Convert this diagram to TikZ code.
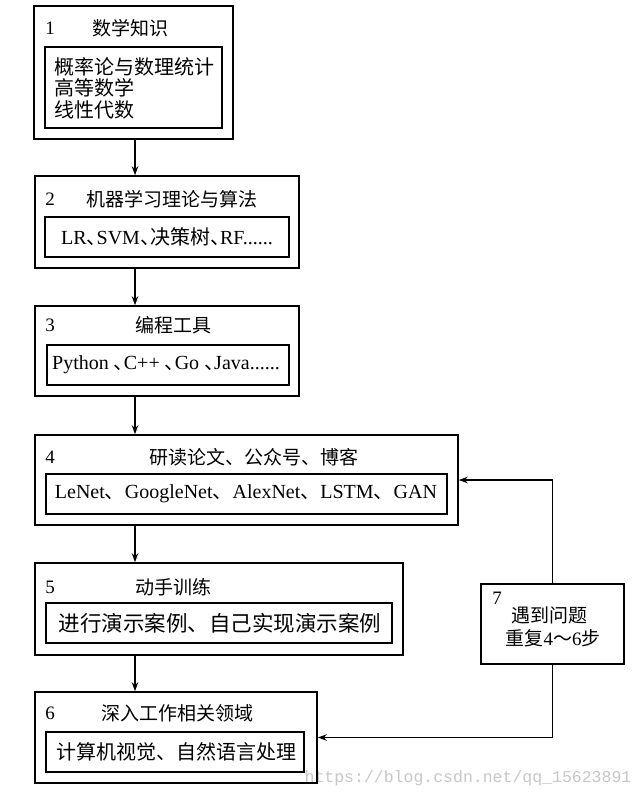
\documentclass[tikz,border=0pt]{standalone}
\usepackage{fontspec}
\setmainfont{Liberation Serif}
\setmonofont{Liberation Mono}
\newfontfamily\cjk{Noto Sans CJK SC}
\usetikzlibrary{arrows.meta}
\newcommand{\nd}{\makebox[0.5em][l]{\cjk 、}}
\tikzset{
  obox/.style={draw, line width=1.6pt, inner sep=0pt},
  ibox/.style={draw, line width=1.5pt, inner sep=0pt},
  txt/.style={inner sep=0pt, font=\fontsize{19pt}{22pt}\selectfont},
  big/.style={inner sep=0pt, font=\fontsize{20pt}{23pt}\selectfont},
  arr/.style={line width=1.2pt, -{Stealth[length=9pt,width=6.5pt]}},
}
\begin{document}
\begin{tikzpicture}[x=1pt,y=-1pt]
\useasboundingbox (0,0) rectangle (642,799);
% watermark
\node[inner sep=0pt, text=black!22, font=\ttfamily\fontsize{16.5pt}{18pt}\selectfont] (wm) at (468,778) {https://blog.csdn.net/qq\_15623891};
% box 1
\node[obox, minimum width=199pt, minimum height=133pt] (b1) at (133.5,72.5) {};
\node[ibox, minimum width=177pt, minimum height=81pt] (i1) at (133.5,87.5) {};
\node[txt] (n1) at (50,28) {1};
\node[txt] (t1) at (130,28) {\cjk 数学知识};
\node[big, anchor=west, align=left, font=\fontsize{20pt}{21.5pt}\selectfont] (c1) at (54,88) {\cjk 概率论与数理统计\\\cjk 高等数学\\\cjk 线性代数};
% box 2
\node[obox, minimum width=264pt, minimum height=92pt] (b2) at (167,222) {};
\node[ibox, minimum width=244pt, minimum height=40pt] (i2) at (167,237) {};
\node[txt] (n2) at (50,199) {2};
\node[txt] (t2) at (172,199) {\cjk 机器学习理论与算法};
\node[big] (c2) at (167,237) {LR\nd SVM\nd{\cjk 决策树}\nd RF......};
% box 3
\node[obox, minimum width=264pt, minimum height=90pt] (b3) at (167,351) {};
\node[ibox, minimum width=242pt, minimum height=40pt] (i3) at (168,365) {};
\node[txt] (n3) at (50,325) {3};
\node[txt] (t3) at (173,325) {\cjk 编程工具};
\node[big] (c3) at (166,365) {Python \nd C++ \nd Go \nd Java......};
% box 4
\node[obox, minimum width=423pt, minimum height=90pt] (b4) at (246.5,480) {};
\node[ibox, minimum width=401pt, minimum height=40pt] (i4) at (246.5,494) {};
\node[txt] (n4) at (50,457) {4};
\node[txt] (t4) at (254,457) {\cjk 研读论文、公众号、博客};
\node[big] (c4) at (246,494) {LeNet{\cjk 、}GoogleNet{\cjk 、}AlexNet{\cjk 、}LSTM{\cjk 、}GAN};
% box 5
\node[obox, minimum width=368pt, minimum height=92pt] (b5) at (219,609) {};
\node[ibox, minimum width=346pt, minimum height=40pt] (i5) at (219,623) {};
\node[txt] (n5) at (50,587) {5};
\node[txt] (t5) at (173,587) {\cjk 动手训练};
\node[txt, font=\fontsize{21.5pt}{24pt}\selectfont] (c5) at (220,623) {\cjk 进行演示案例、自己实现演示案例};
% box 6
\node[obox, minimum width=282pt, minimum height=91pt] (b6) at (176,737.5) {};
\node[ibox, minimum width=258pt, minimum height=40pt] (i6) at (175,752) {};
\node[txt] (n6) at (50,713) {6};
\node[txt] (t6) at (177,713) {\cjk 深入工作相关领域};
\node[txt, font=\fontsize{20pt}{23pt}\selectfont] (c6) at (176,752) {\cjk 计算机视觉、自然语言处理};
% box 7
\node[obox, minimum width=143pt, minimum height=80pt] (b7) at (552.5,624) {};
\node[txt] (n7) at (497,598) {7};
\node[txt] (t7a) at (549,615) {\cjk 遇到问题};
\node[txt] (t7b) at (553,638) {{\cjk 重复}4{\cjk ～}6{\cjk 步}};
% connectors
\coordinate (ax) at (135,0);
\draw[arr] (b1.south -| ax) -- (b2.north -| ax);
\draw[arr] (b2.south -| ax) -- (b3.north -| ax);
\draw[arr] (b3.south -| ax) -- (b4.north -| ax);
\draw[arr] (b4.south -| ax) -- (b5.north -| ax);
\draw[arr] (b5.south -| ax) -- (b6.north -| ax);
\draw[arr] (b7.north) |- (b4.east);
\draw[arr] (b7.south) |- (b6.east);
\end{tikzpicture}
\end{document}
